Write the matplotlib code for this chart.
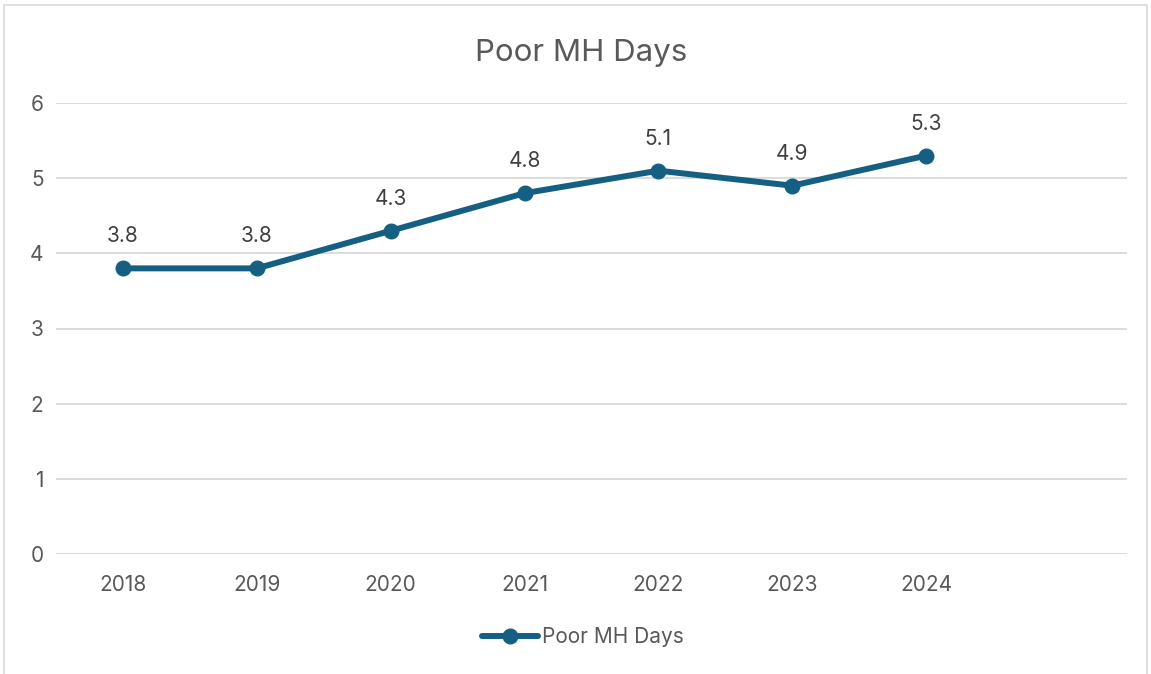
import matplotlib
matplotlib.use("Agg")
import matplotlib.pyplot as plt
from matplotlib.patches import Rectangle

categories = ["2018", "2019", "2020", "2021", "2022", "2023", "2024", ""]
values = [3.8, 3.8, 4.3, 4.8, 5.1, 4.9, 5.3]
series_name = "Poor MH Days"
title = "Poor MH Days"
yticks = [0, 1, 2, 3, 4, 5, 6]

plt.rcParams['font.family'] = ['Inter', 'DejaVu Sans']
text_color = "#595959"
line_color = "#156082"
grid_color = "#d9d9d9"

W, H = 1151, 674
fig = plt.figure(figsize=(W / 100, H / 100), dpi=100)
fig.patch.set_facecolor("white")

# outer border
fig.add_artist(Rectangle((4 / W, -0.05), (1147 - 4) / W, 1.05 - 5 / H,
                         transform=fig.transFigure, fill=False,
                         edgecolor="#d9d9d9", linewidth=1.2))

ax = fig.add_axes([56 / W, 1 - 554 / H, (1127 - 56) / W, (554 - 103) / H])
x = list(range(len(values)))
ax.plot(x, values, color=line_color, linewidth=4.3, marker="o",
        markersize=10.5, label=series_name, solid_capstyle="round")

for xi, v in zip(x, values):
    ax.annotate(f"{v:.1f}", (xi, v), xytext=(0, 23), textcoords="offset points",
                ha="center", va="center", fontsize=15, color="#404040")

ax.set_xlim(-0.5, len(categories) - 0.5)
ax.set_ylim(0, 6)
ax.set_yticks(yticks)
ax.set_yticklabels([str(t) for t in yticks])
ax.set_xticks(range(len(categories)))
ax.set_xticklabels(categories)
ax.tick_params(axis="both", length=0, labelsize=15, colors=text_color)
ax.tick_params(axis="x", pad=15)
ax.tick_params(axis="y", pad=9)

ax.grid(axis="y", color=grid_color, linewidth=1.3)
ax.set_axisbelow(True)
for s in ax.spines.values():
    s.set_visible(False)

fig.text(581 / W, 1 - 61 / H, title, ha="center", va="baseline",
         fontsize=22.5, color=text_color)

leg = fig.legend(loc="center", bbox_to_anchor=(583 / W, 1 - 637 / H),
                 frameon=False, fontsize=15, handlelength=2.65,
                 handletextpad=0.2, labelcolor=text_color)

fig.savefig("out.png", dpi=100, facecolor="white")
